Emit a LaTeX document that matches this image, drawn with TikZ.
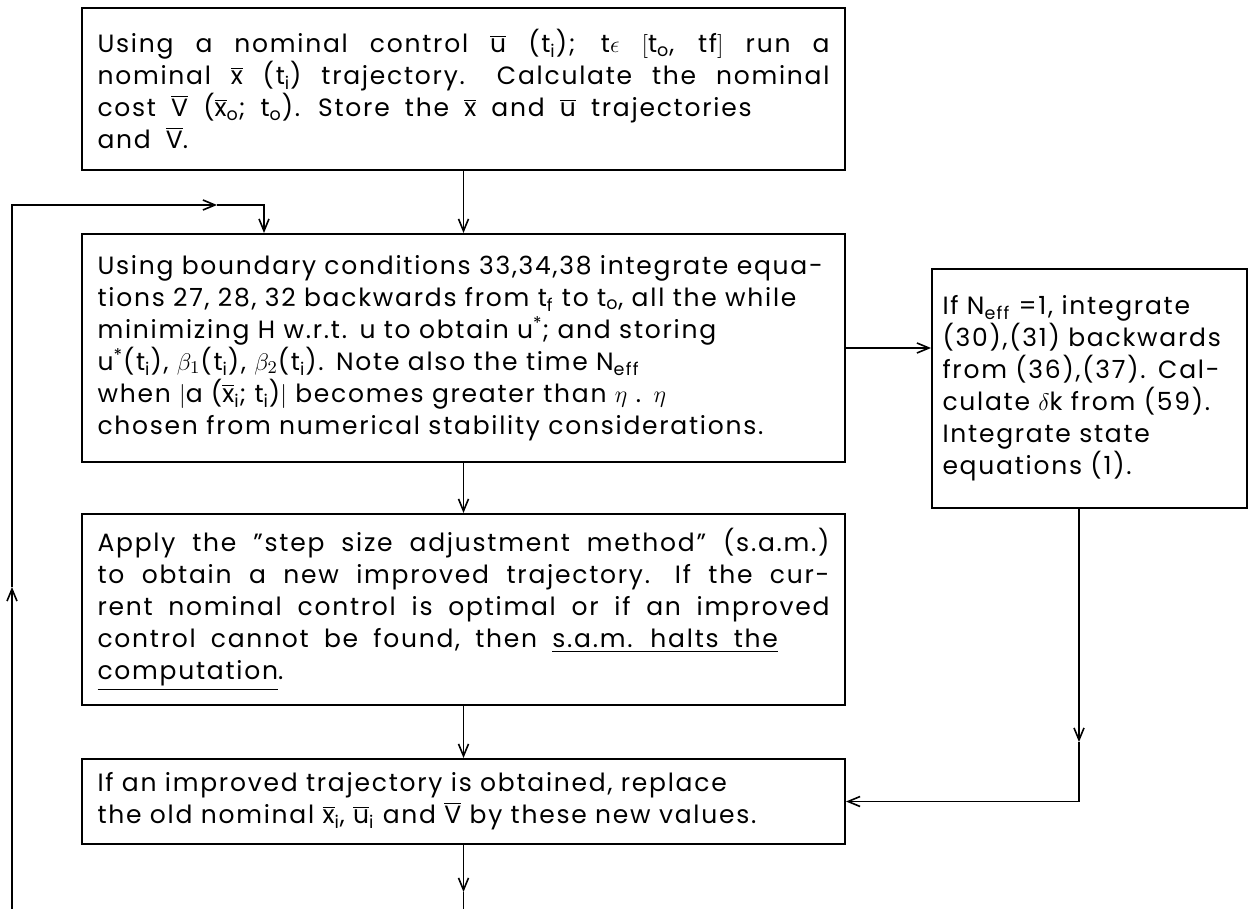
\documentclass[tikz,border=0pt]{standalone}
\usepackage{fontspec}
\setmainfont{Poppins}[LetterSpace=7,WordSpace=1.8]
\usepackage{tikz}
\usetikzlibrary{arrows.meta, positioning}

\newcommand{\ob}[1]{$\overline{\mbox{#1}}$}
\newcommand{\sub}[1]{\textsubscript{#1}}

\begin{document}
\begin{tikzpicture}[x=0.5pt,y=-0.5pt,>={Straight Barb[length=6pt,width=5pt]},
    box/.style={draw,line width=1pt,align=left,inner xsep=7pt,
      font=\fontsize{12.5}{16}\selectfont},
    wide/.style={box,minimum width=381.5pt,text width=366pt},
    line/.style={line width=0.8pt}]
  \useasboundingbox (0,0) rectangle (1252,909);

  \node[wide,align=justify,minimum height=81pt] (nominal) at (463.5,89)
    {Using a nominal control \ob{u} (t\sub{i}); t$\epsilon$ $\big[$t\sub{o}, tf$\big]$ run a\linebreak
     nominal \ob{x} (t\sub{i}) trajectory. Calculate the nominal\linebreak
     cost \ob{V} (\ob{x}\sub{o}; t\sub{o}). Store the \ob{x} and \ob{u} trajectories\\
     and \ob{V}.};
  \node[wide,minimum height=114pt] (backward) at (463.5,348)
    {Using boundary conditions 33,34,38 integrate equa-\\
     tions 27, 28, 32 backwards from t\sub{f} to t\sub{o}, all the while\\
     minimizing H w.r.t. u to obtain u\textsuperscript{*}; and storing\\
     u\textsuperscript{*}(t\sub{i}), $\beta_1$(t\sub{i}), $\beta_2$(t\sub{i}). Note also the time N\sub{eff}\\
     when $\big|$a (\ob{x}\sub{i}; t\sub{i})$\big|$ becomes greater than $\eta$ . $\eta$\\
     chosen from numerical stability considerations.};
  \node[wide,align=justify,minimum height=95.5pt] (adjust) at (463.5,609.5)
    {Apply the "step size adjustment method" (s.a.m.)\linebreak
     to obtain a new improved trajectory. If the cur-\linebreak
     rent nominal control is optimal or if an improved\linebreak
     control cannot be found, then \underline{s.a.m. halts the}\\
     \underline{computation}.};
  \node[wide,minimum height=42.5pt] (replace) at (463.5,801.5)
    {If an improved trajectory is obtained, replace\\
     the old nominal \ob{x}\sub{i}, \ob{u}\sub{i} and \ob{V} by these new values.};
  \node[box,inner xsep=5pt,minimum width=157.5pt,text width=147pt,minimum height=119.5pt] (effect) at (1089.5,388.5)
    {If N\sub{eff} =1, integrate\\
     (30),(31) backwards\\
     from (36),(37). Cal-\\
     culate $\delta$k from (59).\\
     Integrate state\\
     equations (1).};

  % loop back
  \coordinate (lbot) at (12,909);
  \coordinate (lmid) at (12,587);
  \coordinate (ltop) at (12,205);
  \coordinate (lrmid) at (217,205);
  \coordinate (lcorner) at (264,205);
  \coordinate (dmid) at (1079,742);
  \coordinate (fmid) at (463.5,892);
  \coordinate (fbot) at (463.5,909);

  \draw[->,line] (nominal) -- (backward);
  \draw[->,line] (backward) -- (adjust);
  \draw[->,line] (adjust) -- (replace);
  \draw[->,line] (backward.east) -- (effect.west |- backward.east);
  \draw[->,line] (effect.south -| dmid) -- (dmid);
  \draw[->,line] (dmid) |- (replace.east);
  \draw[->,line] (replace) -- (fmid);
  \draw[line] (fmid) -- (fbot);
  \draw[->,line] (lbot) -- (lmid);
  \draw[->,line] (lmid) -- (ltop) -- (lrmid);
  \draw[->,line] (lrmid) -- (lcorner) -- (lcorner |- backward.north);
\end{tikzpicture}
\end{document}
